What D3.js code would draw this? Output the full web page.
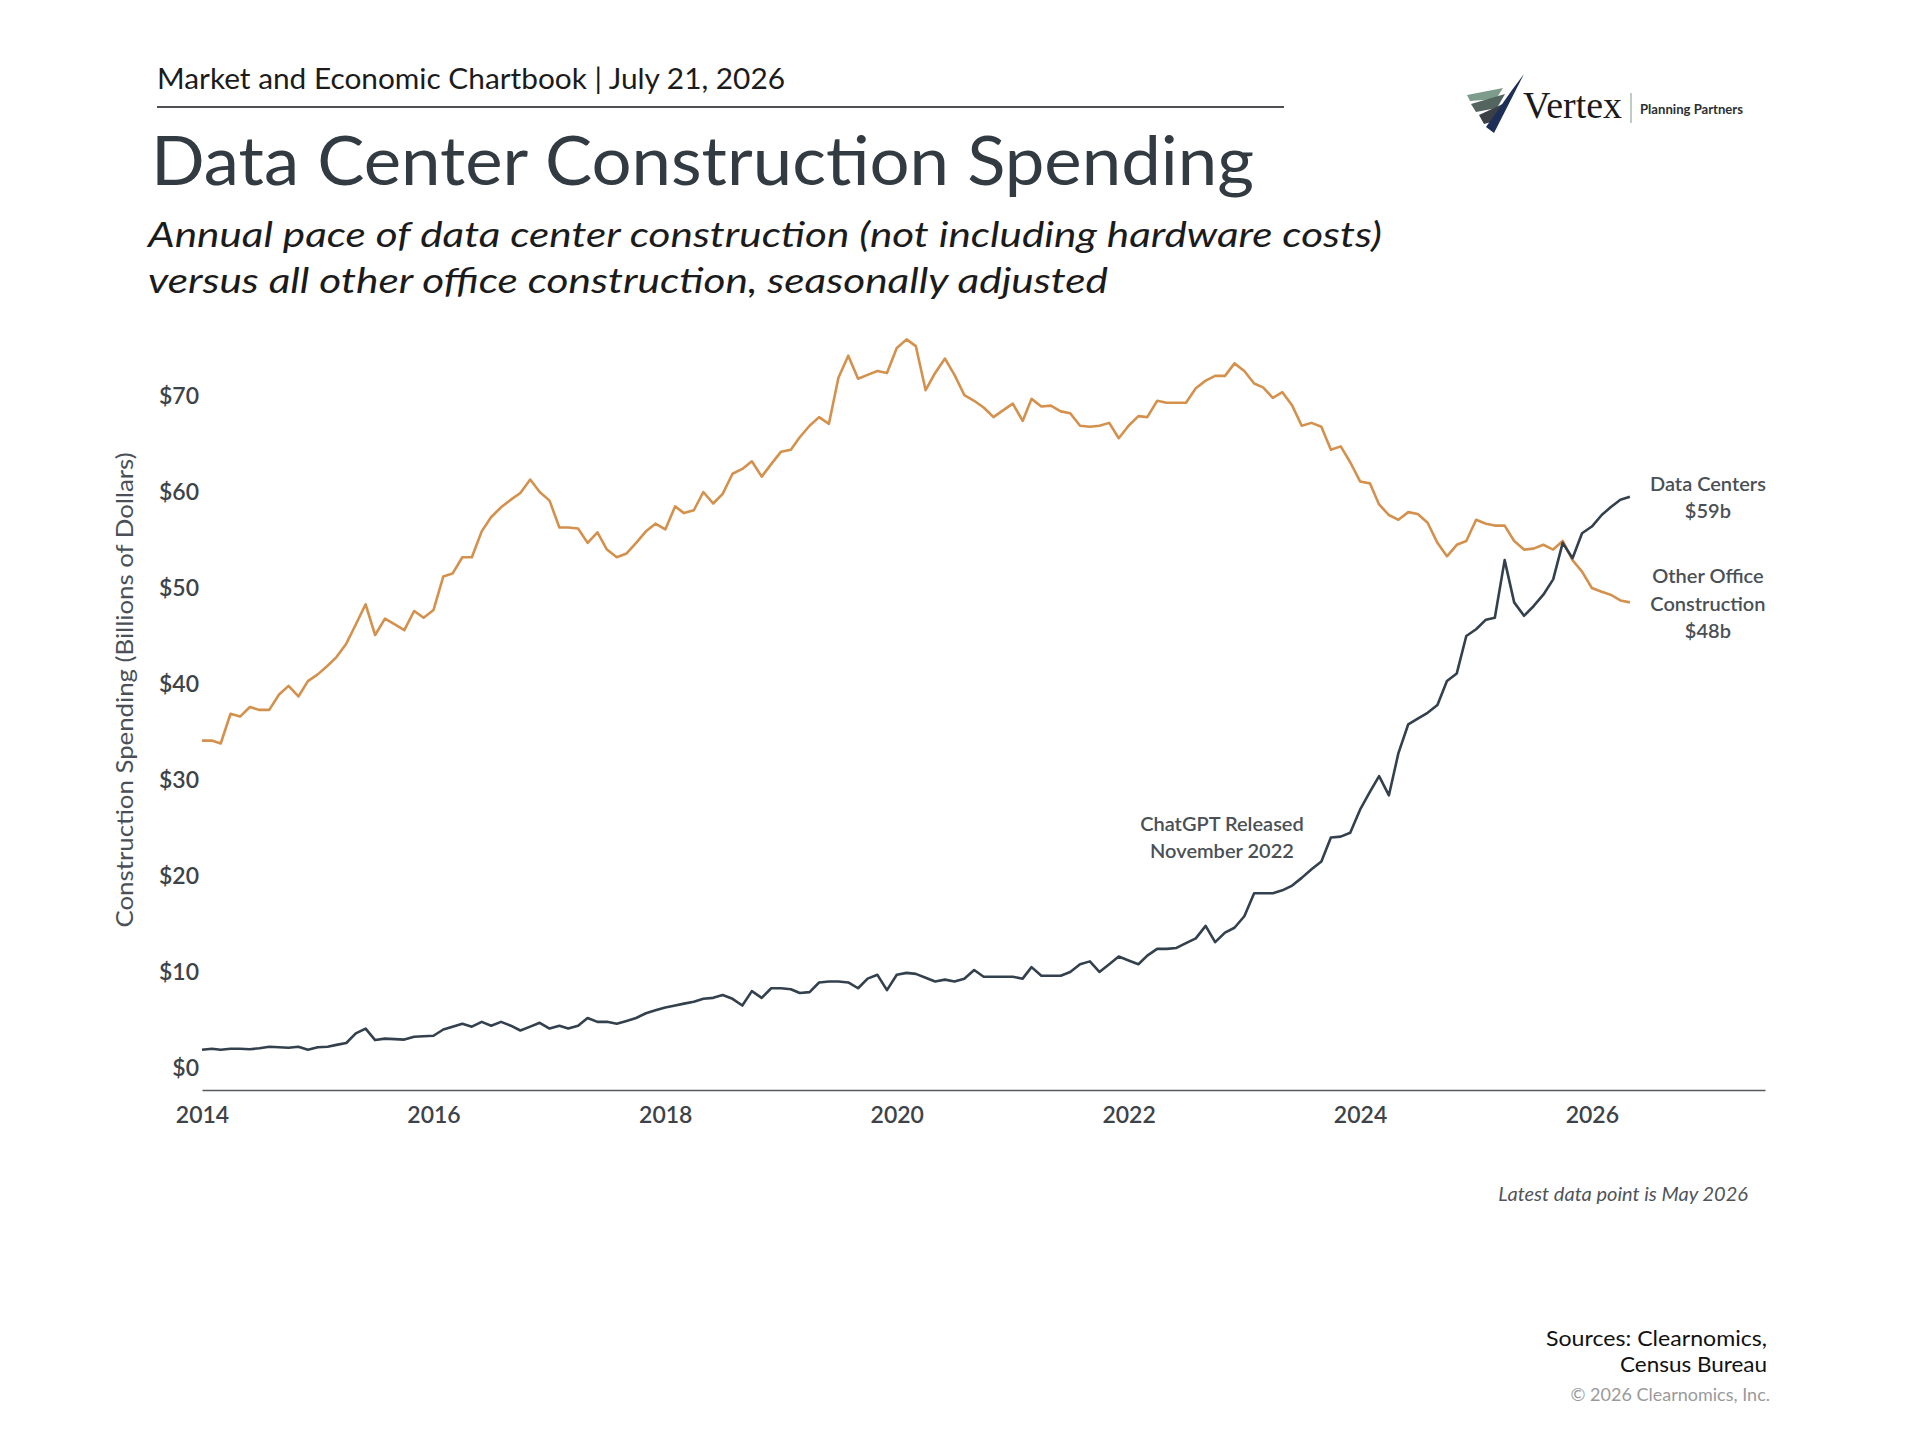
<!DOCTYPE html>
<html>
<head>
<meta charset="utf-8">
<title>Data Center Construction Spending</title>
<script src="https://cdn.jsdelivr.net/npm/d3@7"></script>
<style>
body { margin: 0; background: #fff; }
svg { display: block; font-family: Lato, "Open Sans", sans-serif; }
</style>
</head>
<body>
<svg id="chart" width="1918" height="1439"></svg>
<script>
"use strict";

var xTickYears = [2014, 2016, 2018, 2020, 2022, 2024, 2026];
var yTickValues = [0, 10, 20, 30, 40, 50, 60, 70];

/* monthly, Jan 2014 - May 2026, billions of dollars (annual pace) */
var dataCenters = [
    1.9, 2.0, 1.9, 2.0, 2.0, 1.95, 2.05, 2.2, 2.15, 2.1, 2.2, 1.9,
    2.15, 2.2, 2.4, 2.6, 3.6, 4.1, 2.9, 3.05, 3.0, 2.95, 3.25, 3.3,
    3.35, 4.0, 4.3, 4.6, 4.3, 4.8, 4.4, 4.8, 4.4, 3.9, 4.3, 4.7,
    4.1, 4.4, 4.1, 4.4, 5.2, 4.8, 4.8, 4.6, 4.9, 5.2, 5.7, 6.0,
    6.3, 6.5, 6.7, 6.9, 7.2, 7.3, 7.6, 7.2, 6.5, 8.0, 7.3, 8.3,
    8.3, 8.2, 7.8, 7.9, 8.9, 9.0, 9.0, 8.9, 8.3, 9.3, 9.7, 8.1,
    9.7, 9.9, 9.8, 9.4, 9.0, 9.2, 9.0, 9.3, 10.2, 9.5, 9.5, 9.5,
    9.5, 9.3, 10.5, 9.6, 9.6, 9.6, 10.0, 10.8, 11.1, 10.0, 10.8, 11.6,
    11.2, 10.8, 11.7, 12.4, 12.4, 12.5, 13.0, 13.5, 14.8, 13.1, 14.1, 14.6,
    15.8, 18.2, 18.2, 18.2, 18.5, 19.0, 19.8, 20.7, 21.5, 24.0, 24.1, 24.5,
    26.9, 28.75, 30.4, 28.4, 32.8, 35.8, 36.4, 37.0, 37.8, 40.3, 41.1, 45.0,
    45.7, 46.7, 46.9, 52.9, 48.5, 47.1, 48.1, 49.3, 50.9, 54.7, 53.1, 55.7,
    56.4, 57.6, 58.4, 59.2, 59.5
];

var otherOffice = [
    34.1, 34.1, 33.8, 36.9, 36.6, 37.6, 37.3, 37.3, 38.9, 39.8, 38.7, 40.3,
    41.0, 41.9, 42.8, 44.2, 46.2, 48.3, 45.1, 46.8, 46.2, 45.6, 47.6, 46.9,
    47.7, 51.2, 51.5, 53.2, 53.2, 55.9, 57.4, 58.4, 59.2, 59.9, 61.3, 60.0,
    59.1, 56.3, 56.3, 56.2, 54.7, 55.8, 54.0, 53.2, 53.6, 54.7, 55.9, 56.7,
    56.1, 58.5, 57.8, 58.1, 60.0, 58.8, 59.8, 61.9, 62.4, 63.2, 61.6, 62.9,
    64.2, 64.4, 65.7, 66.9, 67.8, 67.1, 71.9, 74.2, 71.8, 72.2, 72.6, 72.4,
    75.0, 75.9, 75.2, 70.6, 72.4, 73.9, 72.2, 70.1, 69.5, 68.8, 67.8, 68.5,
    69.2, 67.4, 69.7, 68.9, 69.0, 68.4, 68.2, 66.9, 66.8, 66.9, 67.2, 65.6,
    66.9, 67.9, 67.8, 69.5, 69.3, 69.3, 69.3, 70.8, 71.6, 72.1, 72.1, 73.4,
    72.6, 71.3, 70.9, 69.8, 70.4, 69.0, 66.9, 67.2, 66.8, 64.4, 64.75, 63.1,
    61.1, 60.9, 58.7, 57.6, 57.1, 57.9, 57.7, 56.8, 54.7, 53.3, 54.5, 54.9,
    57.1, 56.7, 56.5, 56.5, 54.9, 54.0, 54.1, 54.5, 54.0, 54.9, 52.9, 51.7,
    50.0, 49.6, 49.3, 48.7, 48.5
];

var dataCentersLabel = ["Data Centers", "$59b"];
var otherOfficeLabel = ["Other Office", "Construction", "$48b"];
var chatGptNote = ["ChatGPT Released", "November 2022"];

var months = d3.timeMonth.range(new Date(2014, 0, 1), new Date(2026, 5, 1));

var svg = d3.select("#chart");
svg.append("rect").attr("width", 1918).attr("height", 1439).attr("fill", "#fff");

/* header */
svg.append("text").attr("x", 157).attr("y", 89)
    .attr("font-size", 29).attr("fill", "#1b1b1b")
    .attr("textLength", 628).attr("lengthAdjust", "spacingAndGlyphs")
    .text("Market and Economic Chartbook | July 21, 2026");
svg.append("line").attr("x1", 157).attr("x2", 1284).attr("y1", 107).attr("y2", 107)
    .attr("stroke", "#4d4f52").attr("stroke-width", 2);
svg.append("text").attr("x", 151).attr("y", 185)
    .attr("font-size", 67).attr("fill", "#323a42")
    .attr("textLength", 1103).attr("lengthAdjust", "spacingAndGlyphs")
    .text("Data Center Construction Spending");
svg.append("text").attr("x", 148).attr("y", 247)
    .attr("font-size", 34).attr("font-style", "italic").attr("fill", "#1b1b1b")
    .attr("textLength", 1234).attr("lengthAdjust", "spacingAndGlyphs")
    .text("Annual pace of data center construction (not including hardware costs)");
svg.append("text").attr("x", 148).attr("y", 293)
    .attr("font-size", 34).attr("font-style", "italic").attr("fill", "#1b1b1b")
    .attr("textLength", 960).attr("lengthAdjust", "spacingAndGlyphs")
    .text("versus all other office construction, seasonally adjusted");

/* logo */
var logo = svg.append("g");
var stripes = [
    { c: "#7d9c8b", p: [[1467, 95], [1503, 88], [1496, 99], [1470, 101]] },
    { c: "#54645f", p: [[1471, 104], [1505, 94], [1497, 108], [1476, 112]] },
    { c: "#3b4047", p: [[1479, 115], [1507, 102], [1495, 121], [1484, 124]] },
    { c: "#1d2f57", p: [[1524, 74], [1494, 133], [1486, 127], [1512, 90]] }
];
logo.selectAll("polygon").data(stripes).enter().append("polygon")
    .attr("points", function (d) { return d.p.map(function (q) { return q.join(","); }).join(" "); })
    .attr("fill", function (d) { return d.c; });
logo.append("text").attr("x", 1523).attr("y", 118)
    .attr("font-family", "'Liberation Serif', 'DejaVu Serif', serif")
    .attr("font-size", 37).attr("fill", "#1a1a1a")
    .attr("textLength", 99).attr("lengthAdjust", "spacingAndGlyphs")
    .text("Vertex");
logo.append("line").attr("x1", 1631).attr("x2", 1631).attr("y1", 93).attr("y2", 123)
    .attr("stroke", "#7d9c8b").attr("stroke-width", 1);
logo.append("text").attr("x", 1640).attr("y", 114)
    .attr("font-size", 13).attr("font-weight", 700).attr("fill", "#2b2f33")
    .attr("textLength", 103).attr("lengthAdjust", "spacingAndGlyphs")
    .text("Planning Partners");

/* scales */
var x = d3.scaleTime()
    .domain([new Date(2014, 0, 1), new Date(2027, 6, 1)])
    .range([202, 1765]);
var y = d3.scaleLinear()
    .domain([-2.3, 70])
    .range([1090, 396]);

var xAxis = d3.axisBottom(x)
    .tickValues(xTickYears.map(function (yr) { return new Date(yr, 0, 1); }))
    .tickFormat(d3.timeFormat("%Y"))
    .tickSize(0).tickSizeOuter(0).tickPadding(17);
var gx = svg.append("g").attr("transform", "translate(0," + y(-2.3) + ")").call(xAxis);
gx.select(".domain").attr("stroke", "#55595d").attr("stroke-width", 1.6);
gx.selectAll("text").attr("font-size", 23).attr("font-weight", 600)
    .attr("font-family", "Lato, sans-serif").attr("fill", "#3d4349");

var yAxis = d3.axisLeft(y)
    .tickValues(yTickValues)
    .tickFormat(function (d) { return "$" + d; })
    .tickSize(0).tickPadding(3);
var gy = svg.append("g").attr("transform", "translate(202,0)").call(yAxis);
gy.select(".domain").remove();
gy.selectAll("text").attr("font-size", 23).attr("font-weight", 600)
    .attr("font-family", "Lato, sans-serif").attr("fill", "#3d4349");

svg.append("text")
    .attr("transform", "translate(133,690) rotate(-90)")
    .attr("text-anchor", "middle")
    .attr("font-size", 23).attr("fill", "#4a5056")
    .attr("textLength", 475).attr("lengthAdjust", "spacingAndGlyphs")
    .text("Construction Spending (Billions of Dollars)");

/* lines */
var line = d3.line()
    .x(function (d, i) { return x(months[i]); })
    .y(function (d) { return y(d); });

svg.append("path").datum(otherOffice).attr("d", line)
    .attr("fill", "none").attr("stroke", "#d4914d").attr("stroke-width", 2.6)
    .attr("stroke-linejoin", "round");
svg.append("path").datum(dataCenters).attr("d", line)
    .attr("fill", "none").attr("stroke", "#33404d").attr("stroke-width", 2.6)
    .attr("stroke-linejoin", "round");

/* end labels */
function labelBlock(lines, cx, firstBaseline) {
    svg.append("g").selectAll("text").data(lines).enter().append("text")
        .attr("x", cx)
        .attr("y", function (d, i) { return firstBaseline + i * 27.4; })
        .attr("text-anchor", "middle")
        .attr("font-size", 20).attr("font-weight", 600).attr("fill", "#4a5056")
        .text(function (d) { return d; });
}
var lastMonth = months[months.length - 1];
labelBlock(dataCentersLabel, x(lastMonth) + 78, y(dataCenters[dataCenters.length - 1]) - 6);
labelBlock(otherOfficeLabel, x(lastMonth) + 78, y(otherOffice[otherOffice.length - 1]) - 19);
labelBlock(chatGptNote, x(new Date(2022, 10, 1)) - 3, 831);

/* footer */
svg.append("text").attr("x", 1748).attr("y", 1201).attr("text-anchor", "end")
    .attr("font-size", 20).attr("font-style", "italic").attr("fill", "#4f5459")
    .text("Latest data point is May 2026");
svg.append("text").attr("x", 1767).attr("y", 1346).attr("text-anchor", "end")
    .attr("font-size", 22).attr("fill", "#111")
    .attr("textLength", 221).attr("lengthAdjust", "spacingAndGlyphs")
    .text("Sources: Clearnomics,");
svg.append("text").attr("x", 1767).attr("y", 1372).attr("text-anchor", "end")
    .attr("font-size", 22).attr("fill", "#111")
    .attr("textLength", 147).attr("lengthAdjust", "spacingAndGlyphs")
    .text("Census Bureau");
svg.append("text").attr("x", 1770).attr("y", 1401).attr("text-anchor", "end")
    .attr("font-size", 18).attr("fill", "#9a9a9a")
    .text("\u00a9 2026 Clearnomics, Inc.");
</script>
</body>
</html>
